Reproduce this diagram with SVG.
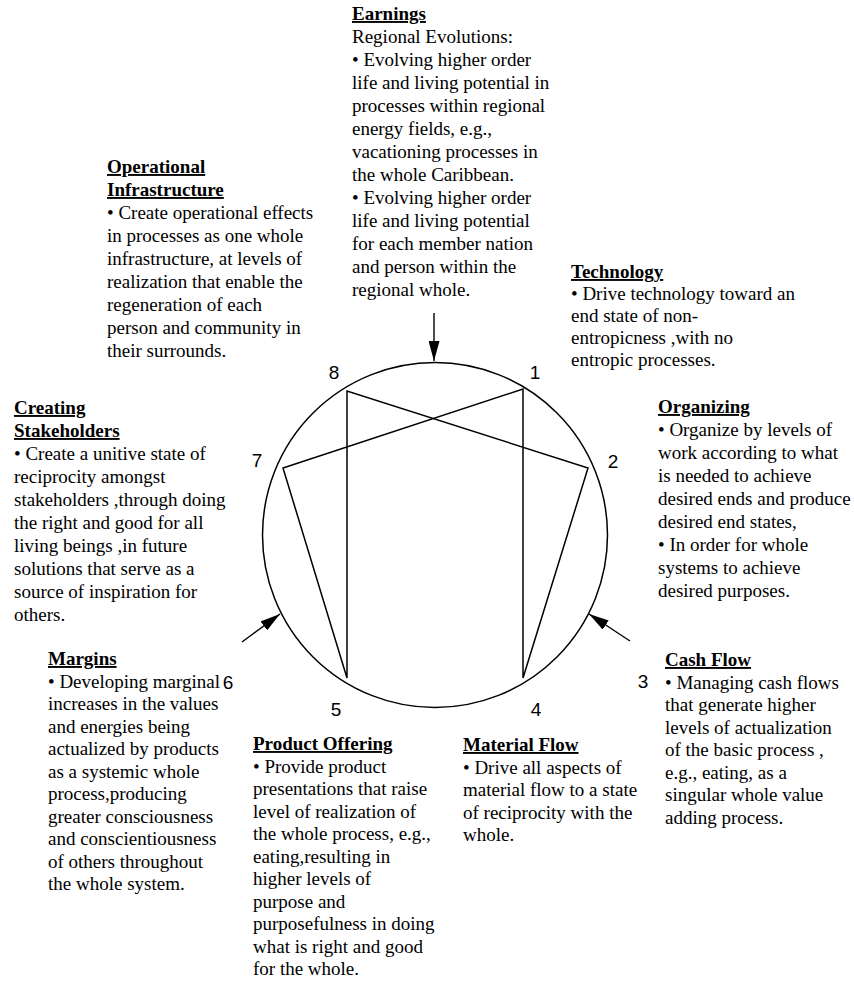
<svg xmlns="http://www.w3.org/2000/svg" width="854" height="986" viewBox="0 0 854 986">
<style>
.t{font-family:"Liberation Serif","Times New Roman",serif;font-size:19px;fill:#000}
.h{font-weight:bold;text-decoration:underline}
.n{font-family:"Liberation Sans",Arial,sans-serif;font-size:19px;fill:#000;text-anchor:middle}
.ln{fill:none;stroke:#000;stroke-width:1.5}
.ar{fill:none;stroke:#000;stroke-width:1.4;marker-end:url(#ah)}
</style>
<defs>
<marker id="ah" viewBox="0 0 20 11" markerWidth="20" markerHeight="11" refX="20" refY="5.5" orient="auto" markerUnits="userSpaceOnUse">
<path d="M0,0 L20,5.5 L0,11 z" fill="#000"/>
</marker>
</defs>
<rect width="854" height="986" fill="#fff"/>
<g id="enneagram">
<circle cx="435" cy="535" r="172.5" class="ln" stroke-width="1.3"/>
<path class="ln" d="M283,468 L523,389 L523,678 L588,468 L347,391 L347,678 Z"/>
<text class="n" x="334" y="379">8</text>
<text class="n" x="535" y="379">1</text>
<text class="n" x="613" y="468">2</text>
<text class="n" x="643" y="688">3</text>
<text class="n" x="536" y="716">4</text>
<text class="n" x="336" y="716">5</text>
<text class="n" x="228" y="689">6</text>
<text class="n" x="257" y="467">7</text>
</g>
<g id="connectors">
<line class="ar" x1="434" y1="313" x2="434" y2="361"/>
<line class="ar" x1="242" y1="642" x2="280" y2="614"/>
<line class="ar" x1="630" y1="641" x2="589" y2="614"/>
</g>
<g id="earnings">
<text class="t"><tspan class="h" x="352" y="20">Earnings</tspan><tspan x="352" y="43">Regional Evolutions:</tspan><tspan x="352" y="66">• Evolving higher order</tspan><tspan x="352" y="89">life and living potential in</tspan><tspan x="352" y="112">processes within regional</tspan><tspan x="352" y="135">energy fields, e.g.,</tspan><tspan x="352" y="158">vacationing processes in</tspan><tspan x="352" y="181">the whole Caribbean.</tspan><tspan x="352" y="204">• Evolving higher order</tspan><tspan x="352" y="227">life and living potential</tspan><tspan x="352" y="250">for each member nation</tspan><tspan x="352" y="273">and person within the</tspan><tspan x="352" y="296">regional whole.</tspan></text>
</g>
<g id="operational-infrastructure">
<text class="t"><tspan class="h" x="107" y="173">Operational</tspan><tspan class="h" x="107" y="196">Infrastructure</tspan><tspan x="107" y="219">• Create operational effects</tspan><tspan x="107" y="242">in processes as one whole</tspan><tspan x="107" y="265">infrastructure, at levels of</tspan><tspan x="107" y="288">realization that enable the</tspan><tspan x="107" y="311">regeneration of each</tspan><tspan x="107" y="334">person and community in</tspan><tspan x="107" y="357">their surrounds.</tspan></text>
</g>
<g id="technology">
<text class="t"><tspan class="h" x="571" y="278">Technology</tspan><tspan x="571" y="300">• Drive technology toward an</tspan><tspan x="571" y="322">end state of non-</tspan><tspan x="571" y="344">entropicness ,with no</tspan><tspan x="571" y="366">entropic processes.</tspan></text>
</g>
<g id="creating-stakeholders">
<text class="t"><tspan class="h" x="14" y="414">Creating</tspan><tspan class="h" x="14" y="437">Stakeholders</tspan><tspan x="14" y="460">• Create a unitive state of</tspan><tspan x="14" y="483">reciprocity amongst</tspan><tspan x="14" y="506">stakeholders ,through doing</tspan><tspan x="14" y="529">the right and good for all</tspan><tspan x="14" y="552">living beings ,in future</tspan><tspan x="14" y="575">solutions that serve as a</tspan><tspan x="14" y="598">source of inspiration for</tspan><tspan x="14" y="621">others.</tspan></text>
</g>
<g id="organizing">
<text class="t"><tspan class="h" x="658" y="413">Organizing</tspan><tspan x="658" y="436">• Organize by levels of</tspan><tspan x="658" y="459">work according to what</tspan><tspan x="658" y="482">is needed to achieve</tspan><tspan x="658" y="505">desired ends and produce</tspan><tspan x="658" y="528">desired end states,</tspan><tspan x="658" y="551">• In order for whole</tspan><tspan x="658" y="574">systems to achieve</tspan><tspan x="658" y="597">desired purposes.</tspan></text>
</g>
<g id="margins">
<text class="t"><tspan class="h" x="48" y="665">Margins</tspan><tspan x="48" y="687.5">• Developing marginal</tspan><tspan x="48" y="710">increases in the values</tspan><tspan x="48" y="732.5">and energies being</tspan><tspan x="48" y="755">actualized by products</tspan><tspan x="48" y="777.5">as a systemic whole</tspan><tspan x="48" y="800">process,producing</tspan><tspan x="48" y="822.5">greater consciousness</tspan><tspan x="48" y="845">and conscientiousness</tspan><tspan x="48" y="867.5">of others throughout</tspan><tspan x="48" y="890">the whole system.</tspan></text>
</g>
<g id="product-offering">
<text class="t"><tspan class="h" x="253" y="750">Product Offering</tspan><tspan x="253" y="772.5">• Provide product</tspan><tspan x="253" y="795">presentations that raise</tspan><tspan x="253" y="817.5">level of realization of</tspan><tspan x="253" y="840">the whole process, e.g.,</tspan><tspan x="253" y="862.5">eating,resulting in</tspan><tspan x="253" y="885">higher levels of</tspan><tspan x="253" y="907.5">purpose and</tspan><tspan x="253" y="930">purposefulness in doing</tspan><tspan x="253" y="952.5">what is right and good</tspan><tspan x="253" y="975">for the whole.</tspan></text>
</g>
<g id="material-flow">
<text class="t"><tspan class="h" x="463" y="751">Material Flow</tspan><tspan x="463" y="774">• Drive all aspects of</tspan><tspan x="463" y="796">material flow to a state</tspan><tspan x="463" y="819">of reciprocity with the</tspan><tspan x="463" y="841">whole.</tspan></text>
</g>
<g id="cash-flow">
<text class="t"><tspan class="h" x="665" y="666">Cash Flow</tspan><tspan x="665" y="688.5">• Managing cash flows</tspan><tspan x="665" y="711">that generate higher</tspan><tspan x="665" y="733.5">levels of actualization</tspan><tspan x="665" y="756">of the basic process ,</tspan><tspan x="665" y="778.5">e.g., eating, as a</tspan><tspan x="665" y="801">singular whole value</tspan><tspan x="665" y="823.5">adding process.</tspan></text>
</g>
</svg>
